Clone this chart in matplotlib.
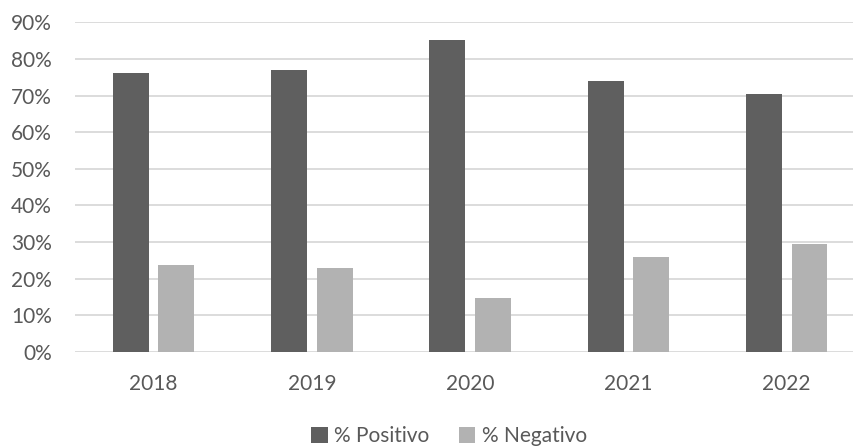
import matplotlib
matplotlib.use("Agg")
import matplotlib.pyplot as plt
import numpy as np
from matplotlib.ticker import FuncFormatter

years = ["2018", "2019", "2020", "2021", "2022"]
positivo = [76.2, 77.0, 85.2, 74.0, 70.5]
negativo = [23.8, 23.0, 14.8, 26.0, 29.5]
series_labels = ["% Positivo", "% Negativo"]

plt.rcParams["font.family"] = ["Lato", "DejaVu Sans"]
text_color = "#595959"

fig = plt.figure(figsize=(8.54, 4.46), dpi=100)
ax = fig.add_axes([75 / 854, 1 - 352 / 446, 1 - 75 / 854, (352 - 22.3) / 446])

x = np.arange(len(years))
bw = 0.227
off = 0.144
ax.bar(x - off, positivo, bw, color="#5f5f5f", label=series_labels[0], zorder=3)
ax.bar(x + off, negativo, bw, color="#b2b2b2", label=series_labels[1], zorder=3)

ax.set_ylim(0, 90)
ax.set_xlim(-0.496, 4.425)
ax.set_yticks(np.arange(0, 91, 10))
ax.yaxis.set_major_formatter(FuncFormatter(lambda v, p: f"{v:.0f}%"))
ax.set_xticks(x)
ax.set_xticklabels(years)

ax.grid(axis="y", color="#d9d9d9", linewidth=1.3, zorder=0)
ax.set_axisbelow(True)
for s in ax.spines.values():
    s.set_visible(False)
ax.tick_params(axis="both", length=0, labelsize=15, colors=text_color)
ax.tick_params(axis="y", pad=16.5)
ax.tick_params(axis="x", pad=15.5)

leg = fig.legend(loc="center", bbox_to_anchor=(449 / 854, 1 - 436 / 446), ncol=2,
                 frameon=False, fontsize=15, handlelength=0.8, handleheight=0.8,
                 handletextpad=0.3, columnspacing=1.4, labelcolor=text_color)

fig.savefig("out.png", dpi=100, facecolor="white")
